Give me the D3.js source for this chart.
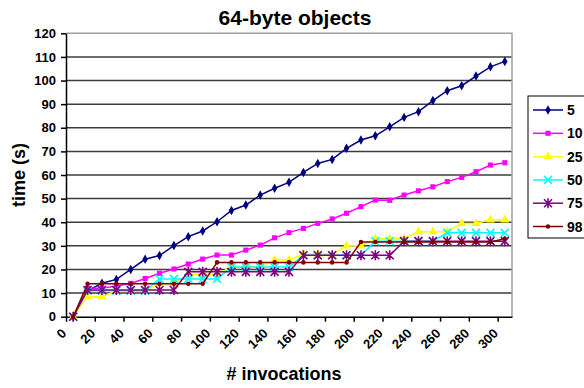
<!DOCTYPE html>
<html>
<head>
<meta charset="utf-8">
<script src="https://cdnjs.cloudflare.com/ajax/libs/d3/7.8.5/d3.min.js"></script>
<style>
  body { margin: 0; background: #fff; }
  svg { font-family: Arial, "Liberation Sans", sans-serif; font-weight: bold; }
</style>
</head>
<body>
<svg id="chart" width="584" height="388"></svg>
<script>
'use strict';

// x positions of the measurements (# invocations)
var invocations = [5, 15, 25, 35, 45, 55, 65, 75, 85, 95, 105, 115, 125, 135, 145, 155,
    165, 175, 185, 195, 205, 215, 225, 235, 245, 255, 265, 275, 285, 295, 305];

var seriesNames = ['5', '10', '25', '50', '75', '98'];

var values5 = [0, 11, 14.2, 15.8, 20, 24.3, 25.9, 30.1, 33.9, 36.3, 40.2, 45, 47.3, 51.5, 54.4, 56.9,
    61.1, 64.9, 66.6, 71.3, 74.8, 76.6, 80.4, 84.4, 86.8, 91.5, 95.7, 97.8, 101.9, 105.8, 108.1];
var values10 = [0, 12, 12, 13, 14.1, 16.2, 18.4, 20.2, 22.3, 24.4, 26.1, 26.1, 28.2, 30.3, 33.4, 35.6,
    37.4, 39.5, 41.4, 43.8, 46.6, 49.4, 49.3, 51.5, 53.3, 55, 57.2, 59, 61.4, 64.2, 65.2];
var values25 = [0, 8.5, 8.5, 11, 11, 11, 14, 14, 18, 18, 18, 21, 21, 21, 24, 24,
    26.5, 26.5, 26.5, 30, 30, 33, 33, 33, 36, 36, 36, 39.5, 39.5, 41, 41];
var values50 = [0, 11, 11, 11, 11, 11, 16, 16, 16, 16, 16, 21, 21, 21, 21, 21,
    26, 26, 26, 26, 26, 32, 32, 32, 32, 32, 35.5, 35.5, 35.5, 35.5, 35.5];
var values75 = [0, 11.3, 11.3, 11.3, 11.3, 11.3, 11.3, 11.3, 19, 19, 19, 19, 19, 19, 19, 19,
    26, 26, 26, 26, 26, 26, 26, 32, 32, 32, 32, 32, 32, 32, 32];
var values98 = [0, 14, 14, 14, 14, 14, 14, 14, 14, 14, 23, 23, 23, 23, 23, 23,
    23, 23, 23, 23, 31.6, 31.6, 31.6, 31.6, 31.6, 31.6, 31.6, 31.6, 31.6, 31.6, 33];

var xTicks = d3.range(0, 301, 20);
var yTicks = d3.range(0, 121, 10);

var colors = ['#000080', '#ff00ff', '#ffff00', '#00ffff', '#800080', '#800000'];
var markers = ['diamond', 'square', 'triangle', 'x', 'star', 'circle'];

var allValues = [values5, values10, values25, values50, values75, values98];
var series = seriesNames.map(function(name, i) {
    return {
        name: name,
        color: colors[i],
        marker: markers[i],
        points: invocations.map(function(x, j) { return { x: x, y: allValues[i][j] }; })
    };
});

var svg = d3.select('#chart');

var x = d3.scaleLinear().domain([0, 310]).range([66, 512]);
var y = d3.scaleLinear().domain([0, 120]).range([316.7, 33.3]);

// gridlines
svg.append('g')
    .selectAll('line')
    .data(yTicks.slice(1, -1))
    .enter()
    .append('line')
    .attr('x1', x(0))
    .attr('x2', x(310))
    .attr('y1', function(d) { return y(d); })
    .attr('y2', function(d) { return y(d); })
    .style('stroke', '#3c3c3c')
    .style('stroke-width', 1.5);

// plot border (top and right, grey)
svg.append('path')
    .attr('d', 'M' + x(0) + ',' + y(120) + 'H' + x(310) + 'V' + y(0))
    .style('fill', 'none')
    .style('stroke', '#a0a0a0')
    .style('stroke-width', 1.5);

// axes
var xAxis = d3.axisBottom(x).tickValues(xTicks).tickSize(5).tickSizeOuter(0).tickFormat('');
var yAxis = d3.axisLeft(y).tickValues(yTicks).tickSize(5).tickSizeOuter(0).tickPadding(5);

var gx = svg.append('g')
    .attr('transform', 'translate(0,' + y(0) + ')')
    .call(xAxis);

var gy = svg.append('g')
    .attr('transform', 'translate(' + x(0) + ',0)')
    .call(yAxis);

[gx, gy].forEach(function(g) {
    g.select('.domain').style('stroke', '#000').style('stroke-width', 1.5);
    g.selectAll('.tick line').style('stroke', '#000').style('stroke-width', 1.5);
});
gy.selectAll('.tick text')
    .style('font-size', '13px')
    .style('font-family', 'Arial, "Liberation Sans", sans-serif')
    .style('font-weight', 'bold')
    .attr('fill', '#000');

// rotated x labels
svg.append('g')
    .selectAll('text')
    .data(xTicks)
    .enter()
    .append('text')
    .attr('transform', function(d) {
        return 'translate(' + (x(d) - 2) + ',' + 331 + ') rotate(-45)';
    })
    .attr('text-anchor', 'end')
    .attr('dy', '0.35em')
    .style('font-size', '13px')
    .text(function(d) { return d; });

// lines
var line = d3.line()
    .x(function(d) { return x(d.x); })
    .y(function(d) { return y(d.y); });

var symbolSize = { diamond: 26, square: 26, triangle: 34, circle: 16 };
var symbolTypes = {
    diamond: d3.symbolDiamond,
    square: d3.symbolSquare,
    triangle: d3.symbolTriangle,
    circle: d3.symbolCircle
};

// cross and asterisk markers are drawn as strokes
var crossPath = function(cx, cy, star) {
    var r = 4;
    var p = 'M' + (cx - r) + ',' + (cy - r) + 'L' + (cx + r) + ',' + (cy + r) +
        'M' + (cx - r) + ',' + (cy + r) + 'L' + (cx + r) + ',' + (cy - r);
    if (star) {
        p += 'M' + cx + ',' + (cy - r - 1) + 'L' + cx + ',' + (cy + r + 1);
    }
    return p;
};

var drawMarker = function(g, s) {
    var pts = g.selectAll('.pt')
        .data(s.points)
        .enter();

    if (s.marker === 'x' || s.marker === 'star') {
        pts.append('path')
            .attr('d', function(d) { return crossPath(x(d.x), y(d.y), s.marker === 'star'); })
            .style('fill', 'none')
            .style('stroke', s.color)
            .style('stroke-width', 1.6);
        return;
    }

    pts.append('path')
        .attr('transform', function(d) { return 'translate(' + x(d.x) + ',' + y(d.y) + ')'; })
        .attr('d', d3.symbol().type(symbolTypes[s.marker]).size(symbolSize[s.marker]))
        .style('fill', s.color)
        .style('stroke', 'none');
};

series.forEach(function(s) {
    var g = svg.append('g');
    g.append('path')
        .datum(s.points)
        .attr('d', line)
        .style('fill', 'none')
        .style('stroke', s.color)
        .style('stroke-width', 1.5);
    drawMarker(g, s);
});

// titles
svg.append('text')
    .attr('x', 295)
    .attr('y', 25)
    .attr('text-anchor', 'middle')
    .style('font-size', '21px')
    .text('64-byte objects');

svg.append('text')
    .attr('transform', 'translate(25,175) rotate(-90)')
    .attr('text-anchor', 'middle')
    .style('font-size', '18px')
    .text('time (s)');

svg.append('text')
    .attr('x', 284)
    .attr('y', 380)
    .attr('text-anchor', 'middle')
    .style('font-size', '18px')
    .text('# invocations');

// legend
var legend = svg.append('g').attr('transform', 'translate(528,96)');
legend.append('rect')
    .attr('width', 70)
    .attr('height', 142)
    .style('fill', '#fff')
    .style('stroke', '#000')
    .style('stroke-width', 1);

var item = legend.selectAll('.item')
    .data(series)
    .enter()
    .append('g')
    .attr('transform', function(d, i) { return 'translate(0,' + (14 + i * 23.3) + ')'; });

item.append('line')
    .attr('x1', 5)
    .attr('x2', 35)
    .style('stroke', function(d) { return d.color; })
    .style('stroke-width', 1.5);

item.each(function(s) {
    var g = d3.select(this);
    if (s.marker === 'x' || s.marker === 'star') {
        g.append('path').attr('d', crossPath(20, 0, s.marker === 'star'))
            .style('fill', 'none').style('stroke', s.color).style('stroke-width', 1.6);
    } else {
        g.append('path')
            .attr('transform', 'translate(20,0)')
            .attr('d', d3.symbol().type(symbolTypes[s.marker]).size(symbolSize[s.marker]))
            .style('fill', s.color);
    }
});

item.append('text')
    .attr('x', 39)
    .attr('dy', '0.36em')
    .style('font-size', '14px')
    .text(function(d) { return d.name; });
</script>
</body>
</html>
